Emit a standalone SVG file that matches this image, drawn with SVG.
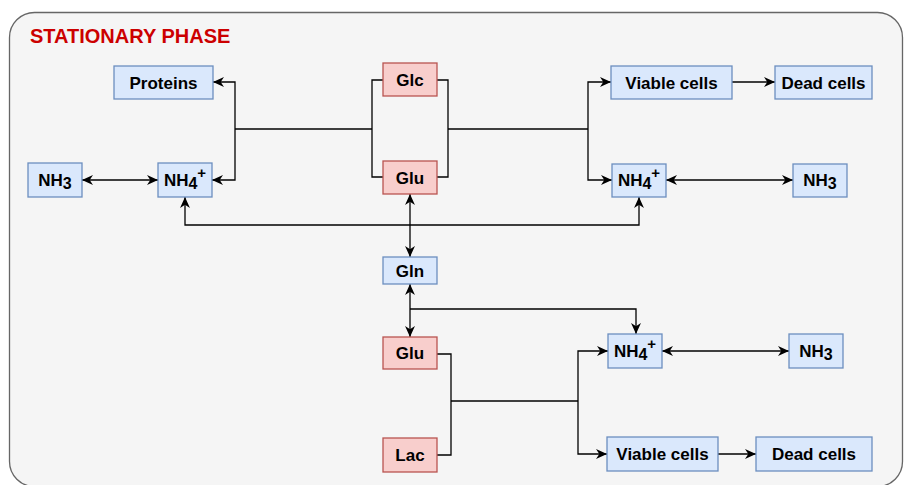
<svg xmlns="http://www.w3.org/2000/svg" width="904" height="485" viewBox="0 0 904 485">
<style>
.b{fill:#dae8fc;stroke:#6c8ebf;stroke-width:1.3}
.r{fill:#f8cecc;stroke:#b85450;stroke-width:1.3}
.t{font-family:"Liberation Sans",Arial,sans-serif;font-weight:bold;font-size:17px;fill:#000;text-anchor:middle}
.c{fill:none;stroke:#000;stroke-width:1.3}
.sub{font-size:16px}
.sup{font-size:15px}
</style>
<defs>
<marker id="a" viewBox="0 0 10 10" refX="10" refY="5" markerWidth="11" markerHeight="11" markerUnits="userSpaceOnUse" orient="auto-start-reverse">
<path d="M0,0.5 L10,5 L0,9.5 L3,5 Z" fill="#000"/>
</marker>
</defs>
<rect x="9.5" y="12.5" width="893" height="474" rx="25" ry="25" fill="#f5f5f5" stroke="#666666" stroke-width="1.3"/>
<text x="30" y="42.5" font-family="'Liberation Sans',Arial,sans-serif" font-weight="bold" font-size="20" fill="#CC0000">STATIONARY PHASE</text>
<g id="connectors">
<path class="c" d="M383,80 H372 V177 H383"/>
<path class="c" d="M372,129 H235"/>
<path class="c" d="M235,129 V82 H213" marker-end="url(#a)"/>
<path class="c" d="M235,129 V180 H212" marker-end="url(#a)"/>
<path class="c" d="M437,80 H448 V177 H437"/>
<path class="c" d="M448,129 H588"/>
<path class="c" d="M588,129 V82 H611" marker-end="url(#a)"/>
<path class="c" d="M588,129 V180 H612" marker-end="url(#a)"/>
<path class="c" d="M732,82 H775" marker-end="url(#a)"/>
<path class="c" d="M666,180 H793" marker-start="url(#a)" marker-end="url(#a)"/>
<path class="c" d="M82,180 H158" marker-start="url(#a)" marker-end="url(#a)"/>
<path class="c" d="M410,194 V257" marker-start="url(#a)" marker-end="url(#a)"/>
<path class="c" d="M410,225 H185 V197" marker-end="url(#a)"/>
<path class="c" d="M410,225 H639 V197" marker-end="url(#a)"/>
<path class="c" d="M410,284 V337" marker-start="url(#a)" marker-end="url(#a)"/>
<path class="c" d="M410,309 H636 V334" marker-end="url(#a)"/>
<path class="c" d="M437,354 H451 V455 H437"/>
<path class="c" d="M451,401 H578"/>
<path class="c" d="M578,401 V351 H608" marker-end="url(#a)"/>
<path class="c" d="M578,401 V454 H607" marker-end="url(#a)"/>
<path class="c" d="M662,351 H789" marker-start="url(#a)" marker-end="url(#a)"/>
<path class="c" d="M718,454 H756" marker-end="url(#a)"/>
</g>
<g id="proteins"><rect class="b" x="114" y="66" width="99" height="33"/><text class="t" x="163.5" y="88.5">Proteins</text></g>
<g id="nh3-left"><rect class="b" x="28" y="163" width="54" height="34"/><text class="t" x="55" y="186">NH<tspan class="sub" dy="3">3</tspan></text></g>
<g id="nh4-left"><rect class="b" x="158" y="163" width="54" height="34"/><text class="t" x="185" y="186">NH<tspan class="sub" dy="3">4</tspan><tspan class="sup" dy="-11">+</tspan></text></g>
<g id="glc"><rect class="r" x="383" y="63" width="54" height="33"/><text class="t" x="410" y="85.5">Glc</text></g>
<g id="glu-top"><rect class="r" x="383" y="161" width="54" height="33"/><text class="t" x="410" y="183.5">Glu</text></g>
<g id="viable-top"><rect class="b" x="611" y="66" width="121" height="33"/><text class="t" x="671.5" y="88.5">Viable cells</text></g>
<g id="dead-top"><rect class="b" x="775" y="66" width="97" height="33"/><text class="t" x="823.5" y="88.5">Dead cells</text></g>
<g id="nh4-right"><rect class="b" x="612" y="164" width="54" height="33"/><text class="t" x="639" y="186">NH<tspan class="sub" dy="3">4</tspan><tspan class="sup" dy="-11">+</tspan></text></g>
<g id="nh3-right"><rect class="b" x="793" y="164" width="54" height="33"/><text class="t" x="820" y="186">NH<tspan class="sub" dy="3">3</tspan></text></g>
<g id="gln"><rect class="b" x="383" y="257" width="54" height="27"/><text class="t" x="410" y="276.5">Gln</text></g>
<g id="glu-bottom"><rect class="r" x="383" y="337" width="54" height="32"/><text class="t" x="410" y="359">Glu</text></g>
<g id="lac"><rect class="r" x="383" y="438" width="54" height="34"/><text class="t" x="410" y="461">Lac</text></g>
<g id="nh4-bottom"><rect class="b" x="608" y="334" width="54" height="34"/><text class="t" x="635" y="357">NH<tspan class="sub" dy="3">4</tspan><tspan class="sup" dy="-11">+</tspan></text></g>
<g id="nh3-bottom"><rect class="b" x="789" y="334" width="54" height="34"/><text class="t" x="816" y="357">NH<tspan class="sub" dy="3">3</tspan></text></g>
<g id="viable-bottom"><rect class="b" x="607" y="437" width="111" height="34"/><text class="t" x="662.5" y="460">Viable cells</text></g>
<g id="dead-bottom"><rect class="b" x="756" y="437" width="116" height="34"/><text class="t" x="814" y="460">Dead cells</text></g>
</svg>
